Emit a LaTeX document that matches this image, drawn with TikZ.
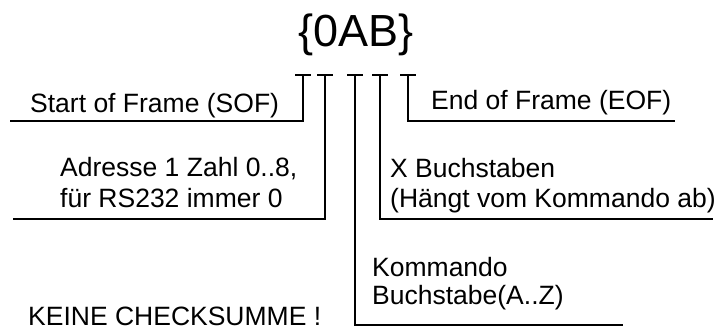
\documentclass[tikz,border=0pt]{standalone}
\usepackage{fontspec}
\setmainfont{Liberation Sans}
\begin{document}
\begin{tikzpicture}[x=1pt,y=-1pt,
  conn/.style={line width=1.6pt},
  tickbar/.style={line width=1.4pt},
  lbl/.style={font=\fontsize{26.5}{30}\selectfont, anchor=base west, inner sep=0pt}]
\useasboundingbox (0,0) rectangle (722,331);
\node[anchor=base, inner sep=0pt, font=\fontsize{45}{50}\selectfont] (title) at (356,47) {\{0AB\}};
% tick tops under the characters
\coordinate (t1) at (303,75);
\coordinate (t2) at (325,75);
\coordinate (t3) at (355,75);
\coordinate (t4) at (380,75);
\coordinate (t5) at (408,75);
% line ends
\coordinate (e1) at (10,121);
\coordinate (e2) at (13,219);
\coordinate (e3) at (623,325);
\coordinate (e4) at (713,219);
\coordinate (e5) at (675,121);
\foreach \t in {t1,t2,t3,t4,t5}{
  \draw[tickbar] ([xshift=-8pt]\t) -- ([xshift=8pt]\t);
}
\draw[conn] (t1) |- (e1);
\draw[conn] (t2) |- (e2);
\draw[conn] (t3) |- (e3);
\draw[conn] (t4) |- (e4);
\draw[conn] (t5) |- (e5);
% labels
\node[lbl] (sof) at (30,113) {Start of Frame (SOF)};
\node[lbl] (eof) at (431,110) {End of Frame (EOF)};
\node[lbl] (adr1) at (60,177) {Adresse 1 Zahl 0..8,};
\node[lbl] (adr2) at (60,207) {für RS232 immer 0};
\node[lbl] (xb1) at (390,178) {X Buchstaben};
\node[lbl] (xb2) at (390,207) {(Hängt vom Kommando ab)};
\node[lbl] (kom1) at (372,276) {Kommando};
\node[lbl] (kom2) at (372,304) {Buchstabe(A..Z)};
\node[lbl] (keine) at (28,325) {KEINE CHECKSUMME !};
\end{tikzpicture}
\end{document}
